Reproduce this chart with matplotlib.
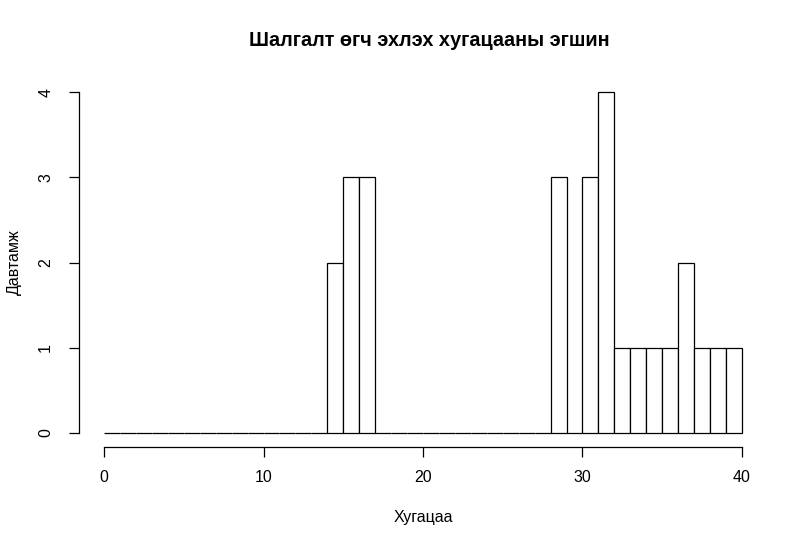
import matplotlib.pyplot as plt
import numpy as np

plt.rcParams['font.family'] = ['Liberation Sans', 'DejaVu Sans']

# histogram bins (width 1, from 0 to 40) and counts
bin_left = list(range(0, 40))
counts = [0] * 14 + [2, 3, 3] + [0] * 11 + [3, 0, 3, 4, 1, 1, 1, 1, 2, 1, 1, 1]
x_ticks = [0, 10, 20, 30, 40]
y_ticks = [0, 1, 2, 3, 4]

title = "Шалгалт өгч эхлэх хугацааны эгшин"
x_label = "Хугацаа"
y_label = "Давтамж"

W, H = 809, 545
fig = plt.figure(figsize=(W / 100, H / 100), dpi=100)
ax = fig.add_axes([78.5 / W, (H - 446.6) / H, (767.5 - 78.5) / W, (446.6 - 78.4) / H])

ax.bar(bin_left, counts, width=1, align='edge', color='white',
       edgecolor='black', linewidth=0.9)

ax.set_xlim(-1.6, 41.6)
ax.set_ylim(-0.16, 4.16)

for s in ['top', 'right']:
    ax.spines[s].set_visible(False)
ax.spines['left'].set_bounds(0, 4)
ax.spines['bottom'].set_bounds(0, 40)
for s in ['left', 'bottom']:
    ax.spines[s].set_linewidth(0.9)

ax.set_xticks(x_ticks)
ax.set_yticks(y_ticks)
ax.set_yticklabels([str(v) for v in y_ticks], rotation=90, va='center')
ax.tick_params(axis='both', direction='out', length=7.2, width=0.9,
               labelsize=11.5, pad=10)
ax.tick_params(axis='y', pad=11)

ax.set_xlabel(x_label, fontsize=11.5, labelpad=18)
ax.set_ylabel(y_label, fontsize=11.5, labelpad=12)
fig.text(429 / W, 1 - 40 / H, title, fontsize=14.3, fontweight='bold',
         ha='center', va='center')

fig.savefig("out.png", dpi=100)
